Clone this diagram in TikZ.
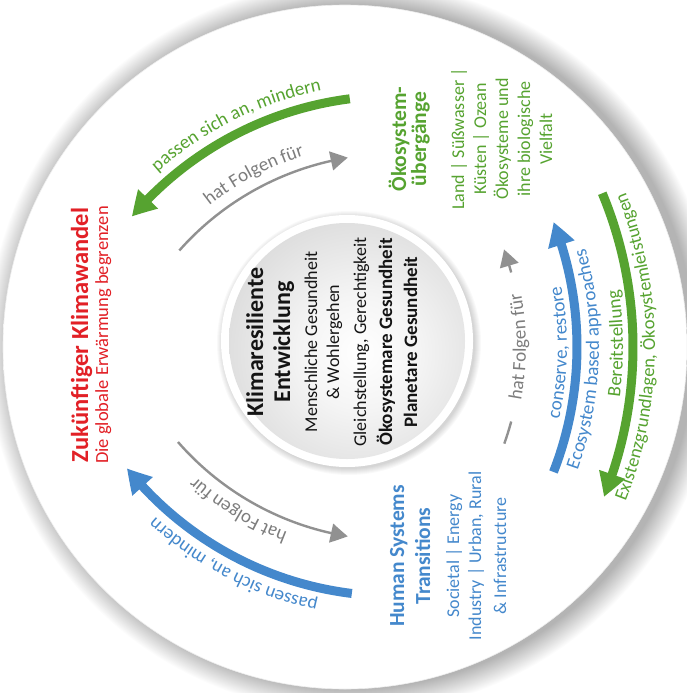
\documentclass[tikz,border=0pt]{standalone}
\usepackage{fontspec}
\setmainfont{Carlito}
\usetikzlibrary{arrows.meta,bending,decorations.text}

\definecolor{cgreen}{RGB}{86,163,48}
\definecolor{cblue}{RGB}{68,136,204}
\definecolor{cred}{RGB}{226,32,38}
\definecolor{cgrey}{RGB}{145,145,145}
\definecolor{ctgrey}{RGB}{125,125,125}
\definecolor{cdark}{RGB}{20,20,20}

\pgfdeclareradialshading{outerdisk}{\pgfpoint{0bp}{0bp}}{color(0bp)=(white); color(38bp)=(white); color(50bp)=(black!7)}
\pgfdeclareradialshading{innerdisk}{\pgfpoint{0bp}{0bp}}{color(0bp)=(white); color(10bp)=(black!4); color(30bp)=(black!17); color(50bp)=(black!36)}

\newcommand\fsz[1]{\fontsize{#1}{#1}\selectfont}

\tikzset{
  fatarrow/.style={line width=9pt, -{Triangle[length=24pt,width=26pt,bend]}},
  fineline/.style={line width=2.4pt, draw=cgrey},
  finearrow/.style={fineline, -{Triangle[length=17pt,width=19pt,bend]}},
  vline/.style={rotate=90, anchor=base, inner sep=0pt, outer sep=0pt},
  ttl/.style={vline, font=\fsz{24}\bfseries, text=cdark},
  sub/.style={vline, font=\fsz{18}, text=cdark},
  subb/.style={vline, font=\fsz{19}\bfseries, text=cdark},
  htitle/.style={vline, font=\fsz{21.5}\bfseries},
  hbody/.style={vline, font=\fsz{18}},
}

\begin{document}
\begin{tikzpicture}[x=1pt,y=1pt]
\useasboundingbox (0,0) rectangle (687,-693);
\fill[white] (0,0) rectangle (687,-693);

% outer disk with soft shadow
\foreach \r in {342,...,366} \fill[black, opacity=0.011] (353,-347) circle[radius=\r];
\shade[shading=outerdisk] (345,-347) circle[radius=342];
\draw[black!7, line width=0.6pt] (345,-347) circle[radius=342];

% inner disk
\foreach \r in {126,...,132} \fill[black, opacity=0.025] (349,-343) circle[radius=\r];
\fill[white] (347,-341) circle[radius=126];
\begin{scope}
  \clip (347,-341) circle[radius=118];
  \shade[shading=innerdisk] (360,-352) circle[radius=142];
\end{scope}

% centre text
\node[ttl]  (kr1) at (263,-342) {Klimaresiliente};
\node[ttl]  (kr2) at (290,-342) {Entwicklung};
\node[sub]  (kr3) at (317,-342) {Menschliche Gesundheit};
\node[sub]  (kr4) at (339,-342) {\& Wohlergehen};
\node[sub]  (kr5) at (366,-342) {Gleichstellung, Gerechtigkeit};
\node[subb] (kr6) at (392,-342) {Ökosystemare Gesundheit};
\node[subb] (kr7) at (417,-342) {Planetare Gesundheit};

% Zukuenftiger Klimawandel
\node[vline, font=\fsz{24.5}\bfseries, text=cred] (zk1) at (88,-335) {Zukünftiger Klimawandel};
\node[vline, font=\fsz{18.5}, text=cred] (zk2) at (108,-335) {Die globale Erwärmung begrenzen};

% Oekosystemuebergaenge
\node[htitle, text=cgreen] (oe1) at (406,-139) {Ökosystem-};
\node[htitle, text=cgreen] (oe2) at (426,-139) {übergänge};
\node[hbody, text=cgreen] (oe3) at (464,-139) {Land | Süßwasser |};
\node[hbody, text=cgreen] (oe4) at (486,-139) {Küsten | Ozean};
\node[hbody, text=cgreen] (oe5) at (508,-139) {Ökosysteme und};
\node[hbody, text=cgreen] (oe6) at (530,-139) {ihre biologische};
\node[hbody, text=cgreen] (oe7) at (552,-139) {Vielfalt};

% Human Systems Transitions
\node[htitle, text=cblue] (hs1) at (404,-556) {Human Systems};
\node[htitle, text=cblue] (hs2) at (430,-556) {Transitions};
\node[hbody, text=cblue] (hs3) at (459,-556) {Societal | Energy};
\node[hbody, text=cblue] (hs4) at (481,-556) {Industry | Urban, Rural};
\node[hbody, text=cblue] (hs5) at (506,-556) {\& Infrastructure};

% ---------- upper-left sector (centre of its arcs) ----------
\begin{scope}[shift={(393.5,-440)}]
  \coordinate (gTs) at (97.3:344);
  \coordinate (hTs) at (138.5:286);
  \draw[fatarrow, cgreen] (gTs) arc[start angle=97.3, end angle=139.5, radius=344];
  \draw[finearrow] (hTs) arc[start angle=138.5, end angle=99.2, radius=286];
  \coordinate (lTg) at (138:357);
  \path[decorate, decoration={text along path, text align=center, text color=cgreen,
        text={|\fsz{19}|passen sich an, mindern}}] (lTg) arc[start angle=138, end angle=95, radius=357];
  \coordinate (lTh) at (140:298);
  \path[decorate, decoration={text along path, text align=center, text color=ctgrey,
        text={|\fsz{19}|hat Folgen für}}] (lTh) arc[start angle=140, end angle=95.6, radius=298];
\end{scope}

% ---------- lower-left sector ----------
\begin{scope}[shift={(393.5,-254)}]
  \coordinate (bBs) at (263:342);
  \coordinate (hBs) at (221.1:286);
  \draw[fatarrow, cblue] (bBs) arc[start angle=263, end angle=218.8, radius=342];
  \draw[finearrow] (hBs) arc[start angle=221.1, end angle=260.8, radius=286];
  \coordinate (lBb) at (265:355);
  \path[decorate, decoration={text along path, text align=center, text color=cblue,
        text={|\fsz{19}|passen sich an, mindern}}] (lBb) arc[start angle=265, end angle=220.6, radius=355];
  \coordinate (lBh) at (261:298);
  \path[decorate, decoration={text along path, text align=center, text color=ctgrey,
        text={|\fsz{19}|hat Folgen für}}] (lBh) arc[start angle=261, end angle=216.6, radius=298];
\end{scope}

% ---------- right sector ----------
\begin{scope}[shift={(233,-347)}]
  \coordinate (bRs) at (-21.3:344);
  \coordinate (gRs) at (22.6:400);
  \coordinate (hRs) at (-19.6:288);
  \coordinate (hRm) at (15:288);
  \draw[fatarrow, cblue]  (bRs) arc[start angle=-21.3, end angle=21.3, radius=344];
  \draw[fatarrow, cgreen] (gRs) arc[start angle=22.6, end angle=-22, radius=400];
  \draw[fineline]  (hRs) arc[start angle=-19.6, end angle=-15, radius=288];
  \draw[finearrow] (hRm) arc[start angle=15, end angle=19.8, radius=288];

  \coordinate (lRh) at (-20:293);
  \path[decorate, decoration={text along path, text align=center, text color=ctgrey,
        text={|\fsz{19}|hat Folgen für}}] (lRh) arc[start angle=-20, end angle=20, radius=293];
  \coordinate (lRc) at (-22:334);
  \path[decorate, decoration={text along path, text align=center, text color=cblue,
        text={|\fsz{19}|conserve, restore}}] (lRc) arc[start angle=-22, end angle=20, radius=334];
  \coordinate (lRe) at (-25:366);
  \path[decorate, decoration={text along path, text align=center, text color=cblue,
        text={|\fsz{19}|Ecosystem based approaches}}] (lRe) arc[start angle=-25, end angle=21, radius=366];
  \coordinate (lRb) at (-20:390);
  \path[decorate, decoration={text along path, text align=center, text color=cgreen,
        text={|\fsz{19}|Bereitstellung}}] (lRb) arc[start angle=-20, end angle=21, radius=390];
  \coordinate (lRx) at (-27:422);
  \path[decorate, decoration={text along path, text align=center, text color=cgreen,
        text={|\fsz{18.5}|Existenzgrundlagen, Ökosystemleistungen}}] (lRx) arc[start angle=-27, end angle=27, radius=422];
\end{scope}
\end{tikzpicture}
\end{document}
